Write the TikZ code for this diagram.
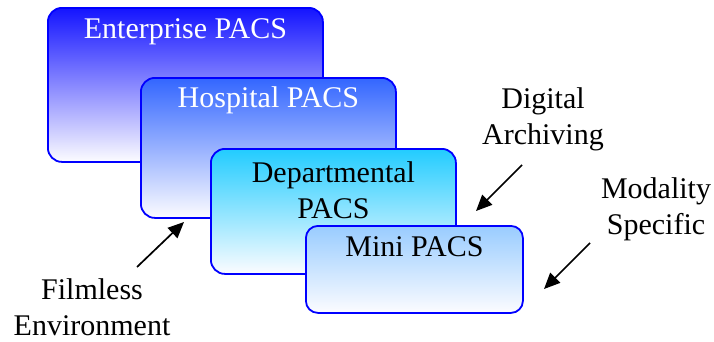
\documentclass[tikz,border=0pt]{standalone}
\usepackage{fontspec}
\setmainfont{Liberation Serif}
\usetikzlibrary{arrows.meta}
\tikzset{
  pbox/.style={draw={rgb,255:red,0;green,0;blue,255}, line width=1.8pt, rounded corners=14pt,
    anchor=north west, inner sep=0pt, bottom color={rgb,255:red,252;green,252;blue,255}},
  lbl/.style={font=\rmfamily\fontsize{30}{36}\selectfont, align=center, inner sep=0pt},
  arr/.style={line width=1.7pt, -{Triangle[length=16pt,width=14pt]}}
}
\definecolor{entc}{RGB}{20,20,255}
\definecolor{hosc}{RGB}{51,102,255}
\definecolor{depc}{RGB}{34,204,255}
\definecolor{minc}{RGB}{153,204,255}
\begin{document}
\begin{tikzpicture}[x=1pt,y=-1pt]
\useasboundingbox (0,0) rectangle (714,341);
\node[pbox, top color=entc, minimum width=275pt, minimum height=154pt] (ent) at (47,7) {};
\node[lbl, text=white] (entT) at ([yshift=-25pt]ent.north) {Enterprise PACS};
\node[pbox, top color=hosc, minimum width=255pt, minimum height=140pt] (hos) at (140,77) {};
\node[lbl, text=white] (hosT) at ([yshift=-23pt]hos.north) {Hospital PACS};
\node[pbox, top color=depc, minimum width=245pt, minimum height=125pt] (dep) at (210,148) {};
\node[lbl] (depT) at ([yshift=-42pt]dep.north) {Departmental\\PACS};
\node[pbox, top color=minc, minimum width=217pt, minimum height=87pt, rounded corners=12pt] (mini) at (305,225) {};
\node[lbl] (miniT) at ([yshift=-22pt]mini.north) {Mini PACS};
\node[lbl] (dig) at (543,119) {Digital\\Archiving};
\node[lbl] (mod) at (656,209) {Modality\\Specific};
\node[lbl] (film) at (92,307) {Filmless\\Environment};
\coordinate (a1s) at (137,267); \coordinate (a1e) at (184,222);
\coordinate (a2s) at (522,165); \coordinate (a2e) at (476,211);
\coordinate (a3s) at (590,243); \coordinate (a3e) at (544,289);
\draw[arr] (a1s) -- (a1e);
\draw[arr] (a2s) -- (a2e);
\draw[arr] (a3s) -- (a3e);
\end{tikzpicture}
\end{document}
